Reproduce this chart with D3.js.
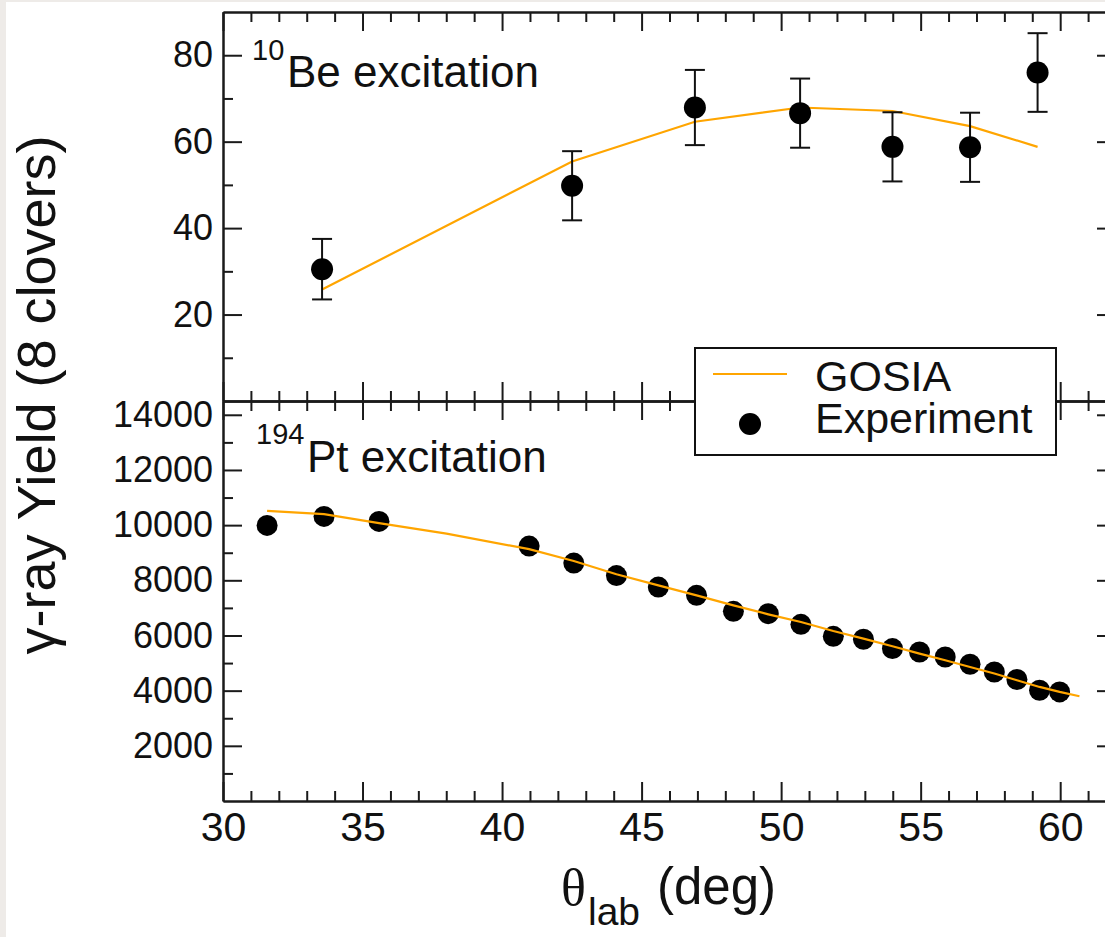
<!DOCTYPE html>
<html>
<head>
<meta charset="utf-8">
<script src="https://cdn.jsdelivr.net/npm/d3@7"></script>
<style>
  html, body { margin: 0; padding: 0; background: #eeebe8; overflow: hidden; }
  svg { display: block; font-family: "Liberation Sans", Arial, Helvetica, sans-serif; }
  .axis path, .axis line { stroke: #1a1a1a; stroke-width: 2; }
  .axis text { fill: #111; font-family: "Liberation Sans", Arial, sans-serif; }
</style>
</head>
<body>
<script>
// ---------- data ----------
const beAngles = [33.55, 42.51, 46.91, 50.68, 53.99, 56.77, 59.19];
const beYield  = [30.5, 49.8, 67.9, 66.6, 58.8, 58.7, 76.0];
const beError  = [7.0, 8.0, 8.7, 8.0, 8.0, 8.0, 9.1];
const beGosia  = [25.8, 55.4, 64.6, 67.9, 67.1, 63.6, 58.8];

const ptAngles = [31.58, 33.62, 35.59, 40.97, 42.57, 44.10, 45.60, 46.97, 48.29, 49.54, 50.71,
                  51.87, 52.95, 53.99, 54.96, 55.88, 56.77, 57.64, 58.45, 59.26, 59.98];
const ptYield  = [9990, 10315, 10134, 9240, 8625, 8170, 7755, 7455, 6875, 6792, 6405,
                  5970, 5862, 5525, 5402, 5221, 4957, 4678, 4403, 4015, 3954];
const ptGosiaAngles = [31.58, 33.62, 35.59, 38.01, 40.97, 42.57, 44.10, 45.60, 46.97, 48.29, 49.54,
                       50.71, 51.87, 52.95, 53.99, 54.96, 55.88, 56.77, 57.64, 58.45, 59.26, 59.98, 60.69];
const ptGosia  = [10520, 10400, 10070, 9690, 9130, 8700, 8220, 7817, 7455, 7093, 6767,
                  6488, 6162, 5887, 5608, 5344, 5101, 4859, 4620, 4377, 4135, 3954, 3798];

const xTicks = [30, 35, 40, 45, 50, 55, 60];
const beTicks = [20, 40, 60, 80];
const ptTicks = [2000, 4000, 6000, 8000, 10000, 12000, 14000];

const seriesNames = ["GOSIA", "Experiment"];
const panelIsotopes = [["10", "Be excitation"], ["194", "Pt excitation"]];
const yTitle = "γ-ray Yield (8 clovers)";

// ---------- layout ----------
const W = 1105, H = 937;
const X0 = 223, X1 = 1116;
const TOP = 12, MID = 401, BOT = 801;
const ORANGE = "#ffa500";
const MAJ = 19, MIN = 10;

const svg = d3.select("body").append("svg").attr("width", W).attr("height", H);
svg.append("rect").attr("x", 6).attr("y", 2).attr("width", W).attr("height", H).attr("fill", "#fff");

const x = d3.scaleLinear().domain([30, 62]).range([X0, X1]);
const yBe = d3.scaleLinear().domain([0, 90]).range([MID, TOP]);
const yPt = d3.scaleLinear().domain([0, 14500]).range([BOT, MID]);

const xMinor = d3.range(30, 63, 1).filter(v => v % 5 !== 0);
const beMinor = [10, 30, 50, 70];
const ptMinor = d3.range(1000, 14500, 2000);

function frame(y, yMajor, yMinor, labelFmt, top, bottom, showX) {
  // left
  svg.append("g").attr("class", "axis").attr("transform", `translate(${X0},0)`)
    .call(d3.axisLeft(y).tickValues(yMinor).tickSize(-MIN).tickSizeOuter(0).tickFormat(""));
  svg.append("g").attr("class", "axis").attr("transform", `translate(${X0},0)`)
    .call(d3.axisLeft(y).tickValues(yMajor).tickSize(-MAJ).tickSizeOuter(0).tickPadding(10).tickFormat(labelFmt))
    .selectAll("text").style("font-size", "36px");
  // right
  svg.append("g").attr("class", "axis").attr("transform", `translate(${X1},0)`)
    .call(d3.axisRight(y).tickValues(yMinor).tickSize(-MIN).tickSizeOuter(0).tickFormat(""));
  svg.append("g").attr("class", "axis").attr("transform", `translate(${X1},0)`)
    .call(d3.axisRight(y).tickValues(yMajor).tickSize(-MAJ).tickSizeOuter(0).tickFormat(""));
  // top
  svg.append("g").attr("class", "axis").attr("transform", `translate(0,${top})`)
    .call(d3.axisTop(x).tickValues(xMinor).tickSize(-MIN).tickSizeOuter(0).tickFormat(""));
  svg.append("g").attr("class", "axis").attr("transform", `translate(0,${top})`)
    .call(d3.axisTop(x).tickValues(xTicks).tickSize(-MAJ).tickSizeOuter(0).tickFormat(""));
  // bottom
  svg.append("g").attr("class", "axis").attr("transform", `translate(0,${bottom})`)
    .call(d3.axisBottom(x).tickValues(xMinor).tickSize(-MIN).tickSizeOuter(0).tickFormat(""));
  const b = svg.append("g").attr("class", "axis").attr("transform", `translate(0,${bottom})`)
    .call(d3.axisBottom(x).tickValues(xTicks).tickSize(-MAJ).tickSizeOuter(0).tickPadding(11)
      .tickFormat(showX ? d3.format("d") : ""));
  b.selectAll("text").style("font-size", "41px");
}

frame(yBe, beTicks, beMinor, d3.format("d"), TOP, MID, false);
frame(yPt, ptTicks, ptMinor, d3.format("d"), MID, BOT, true);

// ---------- top panel marks ----------
const line = (ys) => d3.line().x(d => x(d[0])).y(d => ys(d[1]));
svg.append("path").datum(d3.zip(beAngles, beGosia))
  .attr("d", line(yBe)).attr("fill", "none").attr("stroke", ORANGE).attr("stroke-width", 2.2);

const beData = d3.zip(beAngles, beYield, beError);
const eb = svg.append("g").attr("stroke", "#111").attr("stroke-width", 2);
eb.selectAll("line.v").data(beData).join("line")
  .attr("x1", d => x(d[0])).attr("x2", d => x(d[0]))
  .attr("y1", d => yBe(d[1] - d[2])).attr("y2", d => yBe(d[1] + d[2]));
eb.selectAll("line.t").data(beData).join("line")
  .attr("x1", d => x(d[0]) - 10).attr("x2", d => x(d[0]) + 10)
  .attr("y1", d => yBe(d[1] + d[2])).attr("y2", d => yBe(d[1] + d[2]));
eb.selectAll("line.b").data(beData).join("line")
  .attr("x1", d => x(d[0]) - 10).attr("x2", d => x(d[0]) + 10)
  .attr("y1", d => yBe(d[1] - d[2])).attr("y2", d => yBe(d[1] - d[2]));
svg.append("g").selectAll("circle").data(beData).join("circle")
  .attr("cx", d => x(d[0])).attr("cy", d => yBe(d[1])).attr("r", 11).attr("fill", "#000");

// ---------- bottom panel marks ----------
svg.append("g").selectAll("circle").data(d3.zip(ptAngles, ptYield)).join("circle")
  .attr("cx", d => x(d[0])).attr("cy", d => yPt(d[1])).attr("r", 10.5).attr("fill", "#000");
svg.append("path").datum(d3.zip(ptGosiaAngles, ptGosia))
  .attr("d", line(yPt)).attr("fill", "none").attr("stroke", ORANGE).attr("stroke-width", 2.2);

// ---------- panel labels ----------
function panelLabel(iso, xs, ySup, yMain, xMain) {
  const t = svg.append("text").attr("fill", "#111");
  t.append("tspan").attr("x", xs).attr("y", ySup).style("font-size", "29px").text(iso[0]);
  t.append("tspan").attr("x", xMain).attr("y", yMain).style("font-size", "44px").text(iso[1]);
}
panelLabel(panelIsotopes[0], 252, 60, 87, 287);
panelLabel(panelIsotopes[1], 256, 444, 472, 307);

// ---------- legend ----------
const lg = svg.append("g");
lg.append("rect").attr("x", 695).attr("y", 348).attr("width", 361).attr("height", 107)
  .attr("fill", "#fff").attr("stroke", "#111").attr("stroke-width", 2);
lg.append("line").attr("x1", 713).attr("x2", 787).attr("y1", 374).attr("y2", 374)
  .attr("stroke", ORANGE).attr("stroke-width", 2.2);
lg.append("circle").attr("cx", 750).attr("cy", 424).attr("r", 11).attr("fill", "#000");
lg.append("text").attr("x", 815).attr("y", 391).style("font-size", "43px").attr("fill", "#111").text(seriesNames[0]);
lg.append("text").attr("x", 815).attr("y", 433).style("font-size", "43px").attr("fill", "#111").text(seriesNames[1]);

// ---------- axis titles ----------
svg.append("text").attr("transform", "translate(55,395) rotate(-90)")
  .attr("text-anchor", "middle").style("font-size", "54px").attr("fill", "#111").text(yTitle);

const xt = svg.append("g").attr("fill", "#111");
xt.append("text").attr("x", 561).attr("y", 905)
  .style("font-family", "'Liberation Serif', 'Times New Roman', serif").style("font-size", "52px").text("θ");
xt.append("text").attr("x", 588).attr("y", 925).style("font-size", "39px").text("lab");
xt.append("text").attr("x", 657).attr("y", 904).style("font-size", "51px").text("(deg)");
</script>
</body>
</html>
